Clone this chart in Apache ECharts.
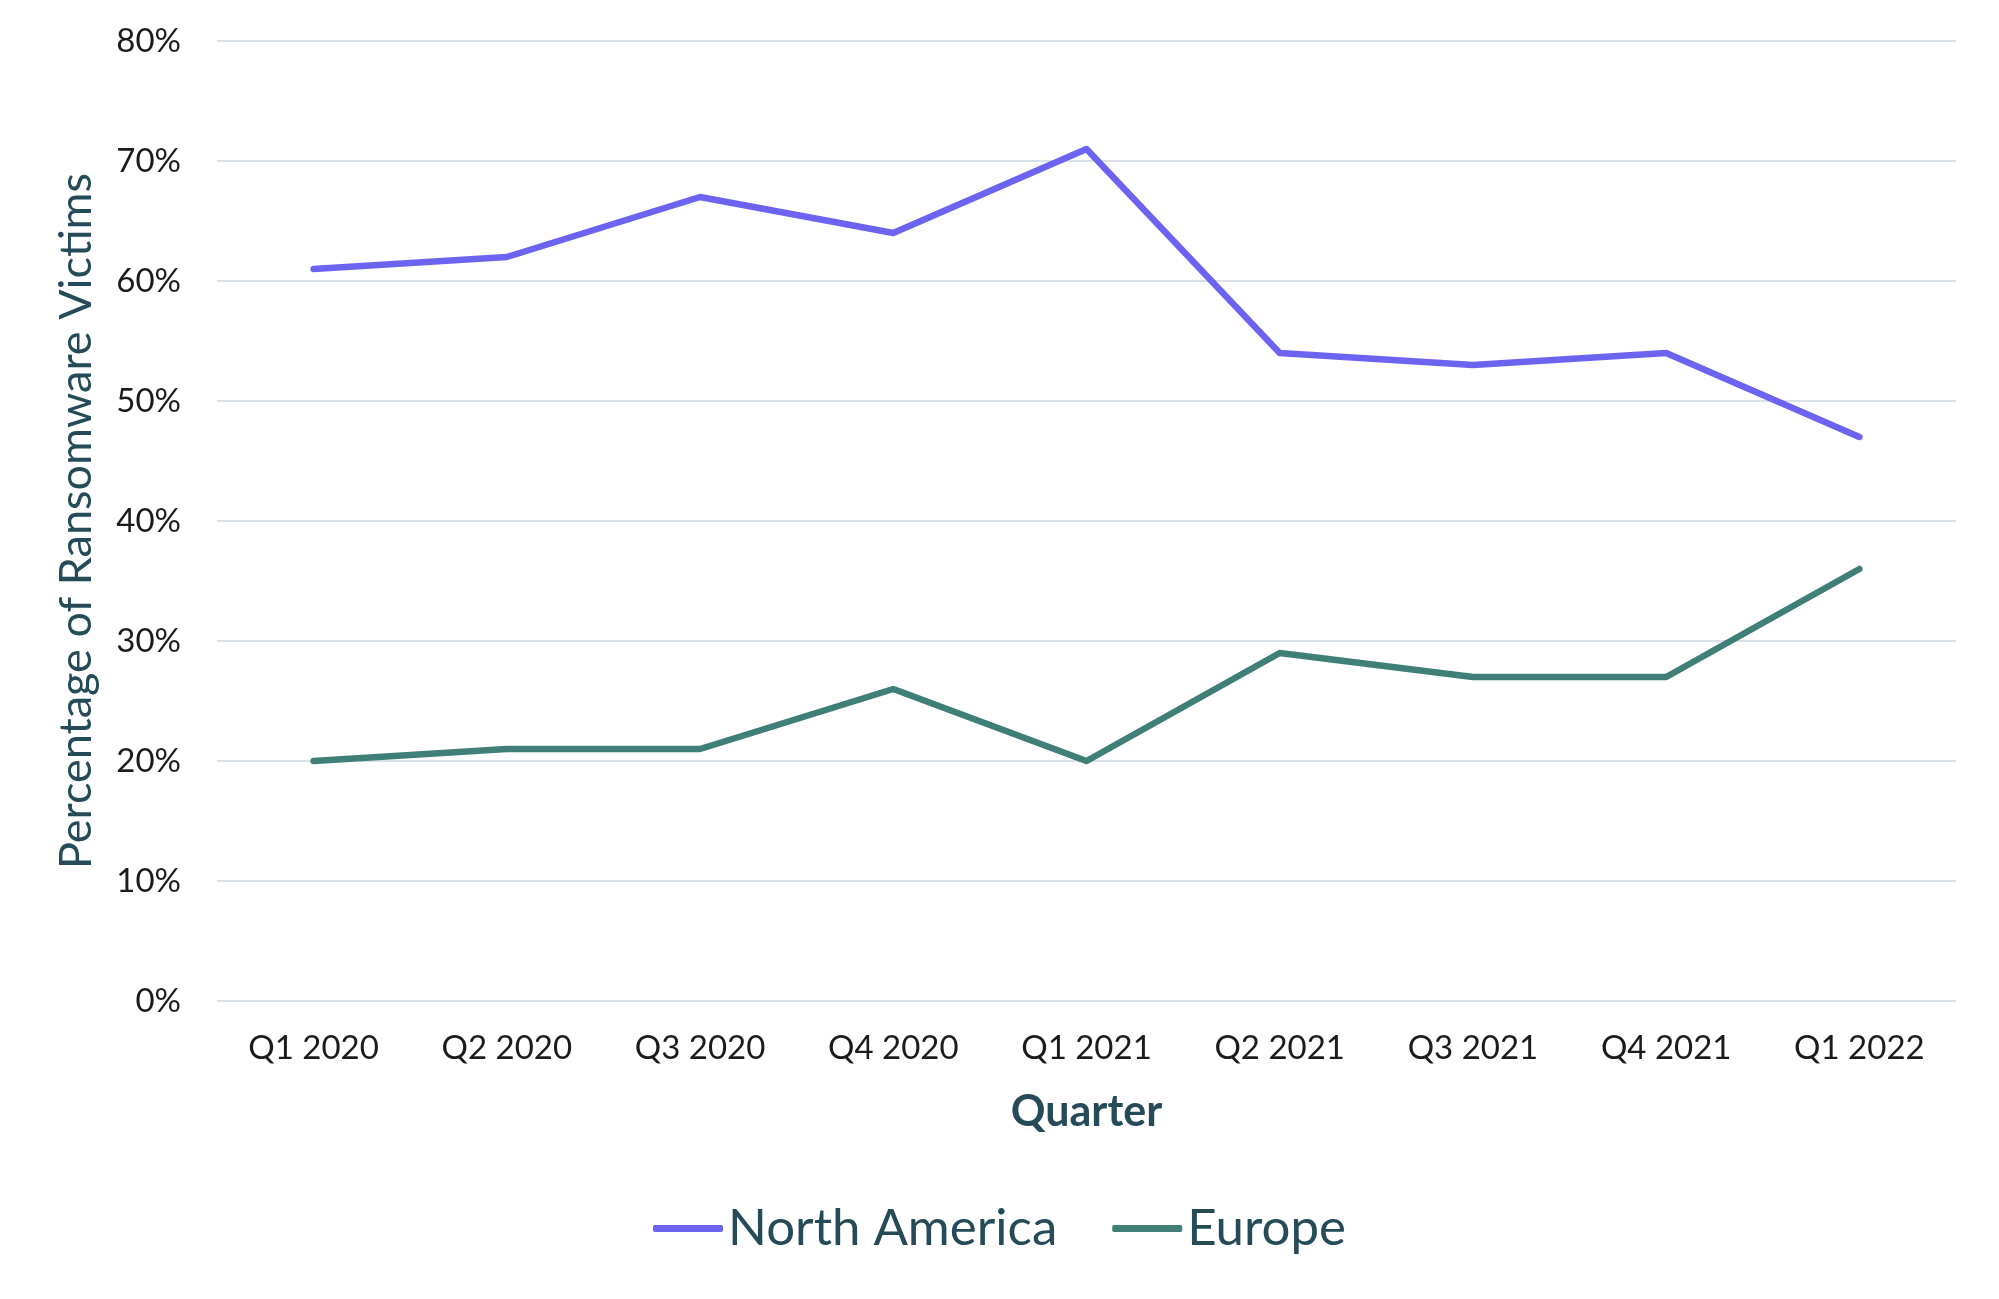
<!DOCTYPE html>
<html lang="en" style="height: 100%">
<head>
    <meta charset="utf-8">
    <title>Ransomware Victims by Region</title>
    <script src="https://cdn.jsdelivr.net/npm/echarts@6/dist/echarts.min.js"></script>
</head>
<body style="height: 100%; margin: 0; background: #ffffff">
<div id="main" style="width: 1999px; height: 1299px"></div>
<script type="text/javascript">
    // data
    var quarters = ['Q1 2020', 'Q2 2020', 'Q3 2020', 'Q4 2020', 'Q1 2021', 'Q2 2021', 'Q3 2021', 'Q4 2021', 'Q1 2022'];
    var northAmerica = [61, 62, 67, 64, 71, 54, 53, 54, 47];
    var europe = [20, 21, 21, 26, 20, 29, 27, 27, 36];

    var fontName = 'Lato';
    var titleColor = '#244B57';

    var chart = echarts.init(document.getElementById('main'));
    var option = {
        animation: false,
        grid: {
            left: 217,
            right: 43,
            top: 41,
            bottom: 298
        },
        legend: {
            bottom: 40,
            left: 'center',
            icon: 'roundRect',
            itemWidth: 70,
            itemHeight: 7,
            itemGap: 55,
            textStyle: {
                fontFamily: fontName,
                fontSize: 51,
                color: titleColor
            },
            data: ['North America', 'Europe']
        },
        xAxis: {
            type: 'category',
            data: quarters,
            boundaryGap: true,
            name: 'Quarter',
            nameLocation: 'middle',
            nameGap: 90,
            nameTextStyle: {
                fontFamily: fontName,
                fontSize: 43,
                fontWeight: 'bold',
                color: titleColor
            },
            axisLine: { show: false },
            axisTick: { show: false },
            axisLabel: {
                margin: 31,
                fontFamily: fontName,
                fontSize: 33,
                color: '#1b1b1b'
            }
        },
        yAxis: {
            type: 'value',
            min: 0,
            max: 80,
            interval: 10,
            name: 'Percentage of Ransomware Victims',
            nameLocation: 'middle',
            nameGap: 118,
            nameTextStyle: {
                fontFamily: fontName,
                fontSize: 45,
                color: titleColor
            },
            axisLine: { show: false },
            axisTick: { show: false },
            axisLabel: {
                margin: 36,
                fontFamily: fontName,
                fontSize: 33,
                color: '#1b1b1b',
                formatter: '{value}%'
            },
            splitLine: {
                lineStyle: { color: '#D8E1E8', width: 2 }
            }
        },
        series: [
            {
                name: 'North America',
                type: 'line',
                data: northAmerica,
                symbol: 'none',
                itemStyle: { color: '#6C63F0' },
                lineStyle: { color: '#6C63F0', width: 6.5, cap: 'round', join: 'round' }
            },
            {
                name: 'Europe',
                type: 'line',
                data: europe,
                symbol: 'none',
                itemStyle: { color: '#3F7F78' },
                lineStyle: { color: '#3F7F78', width: 6.5, cap: 'round', join: 'round' }
            }
        ]
    };
    chart.setOption(option);
</script>
</body>
</html>
